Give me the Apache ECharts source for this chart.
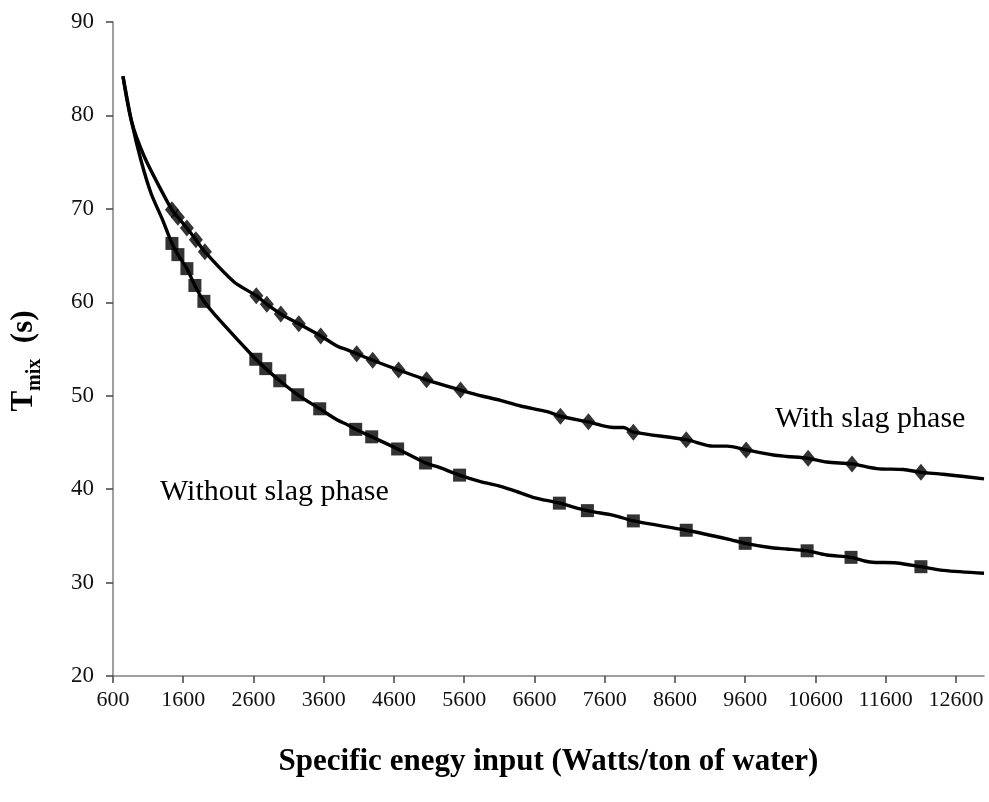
<!DOCTYPE html>
<html>
<head>
<meta charset="utf-8">
<script src="https://cdn.jsdelivr.net/npm/echarts@6/dist/echarts.min.js"></script>
<style>
html,body{margin:0;padding:0;background:#fff;}
#chart{width:989px;height:802px;}
</style>
</head>
<body>
<div id="chart"></div>
<script>
// Tick labels
var xTicks = [600,1600,2600,3600,4600,5600,6600,7600,8600,9600,10600,11600,12600];
var yTicks = [20,30,40,50,60,70,80,90];

// Marker data: With slag phase (diamonds)
var withSlagX = [1439,1524,1652,1780,1908,2640,2790,2989,3245,3557,4069,4297,4666,5064,5548,6970,7368,8008,8761,9614,10496,11121,12102];
var withSlagY = [69.9,69.1,67.95,66.7,65.4,60.7,59.8,58.75,57.7,56.4,54.5,53.8,52.75,51.7,50.6,47.8,47.2,46.1,45.3,44.2,43.3,42.7,41.8];

// Marker data: Without slag phase (squares)
var noSlagX = [1439,1524,1652,1766,1894,2633,2775,2974,3230,3543,4055,4283,4652,5050,5534,6955,7354,8008,8761,9600,10482,11107,12102];
var noSlagY = [66.3,65.1,63.6,61.8,60.1,53.9,52.9,51.6,50.1,48.6,46.4,45.6,44.3,42.8,41.5,38.5,37.7,36.6,35.6,34.2,33.4,32.7,31.7];

// Curve traces
var withCurveX = [742,866,1045,1258,1439,1524,1652,1780,1908,2320,2640,2790,2989,3245,3557,3795,3937,4069,4297,4666,5064,5548,5785,6117,6401,6781,6970,7368,7728,7870,8008,8761,9149,9340,9614,10002,10193,10496,10762,11121,11472,11851,12102,12419,13000];
var withCurveY = [84.2,79.3,75.6,72.4,69.9,69.1,67.95,66.7,65.4,62.2,60.7,59.8,58.75,57.7,56.4,55.3,54.9,54.5,53.8,52.75,51.7,50.6,50.1,49.5,48.9,48.3,47.8,47.2,46.6,46.6,46.1,45.3,44.6,44.6,44.2,43.65,43.5,43.3,42.9,42.7,42.2,42.1,41.8,41.6,41.1];

var noCurveX = [742,866,998,1140,1307,1439,1524,1652,1766,1894,2093,2633,2775,2974,3230,3543,3795,3937,4055,4283,4652,5050,5217,5534,5832,6117,6401,6590,6955,7354,7728,8008,8761,9387,9600,10002,10193,10482,10762,11107,11377,11757,12102,12419,13000];
var noCurveY = [84.2,79.3,75.2,71.7,68.8,66.3,65.1,63.6,61.8,60.1,58.3,53.9,52.9,51.6,50.1,48.6,47.4,46.9,46.4,45.6,44.3,42.8,42.4,41.5,40.8,40.3,39.6,39.1,38.5,37.7,37.2,36.6,35.6,34.6,34.2,33.7,33.6,33.4,32.95,32.7,32.2,32.1,31.7,31.3,31.0];

function zip(a,b){var r=[];for(var i=0;i<a.length;i++)r.push([a[i],b[i]]);return r;}

var SERIF = '"Liberation Serif","Times New Roman",serif';
var chart = echarts.init(document.getElementById('chart'), null, {renderer:'canvas'});
chart.setOption({
  animation:false,
  backgroundColor:'#fff',
  grid:{left:112,right:5,top:22,bottom:126,containLabel:false},
  xAxis:{
    type:'value', min:600, max:13000,
    name:'Specific enegy input (Watts/ton of water)',
    nameLocation:'middle', nameGap:70,
    nameTextStyle:{fontFamily:SERIF,fontWeight:'bold',fontSize:31,color:'#000'},
    axisLine:{show:true,lineStyle:{color:'#808080',width:1.5}},
    axisTick:{show:true,length:7,customValues:xTicks,lineStyle:{color:'#444',width:1.5}},
    axisLabel:{customValues:xTicks,formatter:function(v){return String(v);},fontFamily:SERIF,fontSize:22,color:'#111',margin:13},
    splitLine:{show:false}
  },
  yAxis:{
    type:'value', min:20, max:90, interval:10,
    name:'{t|T}{s|mix}{e|  (s)}',
    nameLocation:'middle', nameGap:74, nameRotate:90,
    nameTextStyle:{
      rich:{
        t:{fontFamily:SERIF,fontWeight:'bold',fontSize:31,color:'#000',lineHeight:34,verticalAlign:'bottom'},
        s:{fontFamily:SERIF,fontWeight:'bold',fontSize:20,color:'#000',lineHeight:34,verticalAlign:'bottom',padding:[0,0,-6,0]},
        e:{fontFamily:SERIF,fontWeight:'bold',fontSize:31,color:'#000',lineHeight:34,verticalAlign:'bottom',padding:[0,24,0,0]}
      }
    },
    axisLine:{show:true,lineStyle:{color:'#808080',width:1.5}},
    axisTick:{show:true,length:7,lineStyle:{color:'#444',width:1.5}},
    axisLabel:{formatter:function(v){return String(v);},fontFamily:SERIF,fontSize:23,color:'#111',margin:19},
    splitLine:{show:false}
  },
  series:[
    {type:'line',name:'with curve',data:zip(withCurveX,withCurveY),showSymbol:false,smooth:0.3,
     lineStyle:{color:'#000',width:3.4},z:2},
    {type:'line',name:'without curve',data:zip(noCurveX,noCurveY),showSymbol:false,smooth:0.3,
     lineStyle:{color:'#000',width:3.4},z:2},
    {type:'scatter',name:'With slag phase',data:zip(withSlagX,withSlagY),symbol:'diamond',symbolSize:[14,17],
     itemStyle:{color:'#000'},z:3},
    {type:'scatter',name:'Without slag phase',data:zip(noSlagX,noSlagY),symbol:'rect',symbolSize:13,
     itemStyle:{color:'#000'},z:3}
  ],
  graphic:[
    {type:'text',left:775,top:404,style:{text:'With slag phase',font:'30px '+SERIF,fill:'#000'}},
    {type:'text',left:160,top:477,style:{text:'Without slag phase',font:'30px '+SERIF,fill:'#000'}}
  ]
});
</script>
</body>
</html>
